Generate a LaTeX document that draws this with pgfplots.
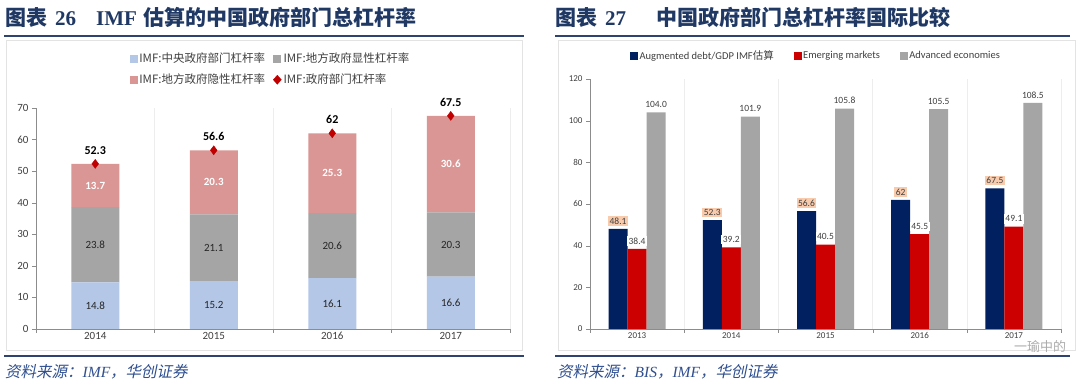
\documentclass[border=0pt]{standalone}
\usepackage{pgfplots}
\pgfplotsset{compat=1.18}
\usepackage{fontspec}
\setmainfont{Carlito}
\newfontfamily\cjk{Noto Sans CJK SC}
\newfontfamily\cjkit{Noto Sans CJK SC}[FakeSlant=0.2]
\newfontfamily\tnr{Liberation Serif}
\definecolor{titleblue}{HTML}{1F3864}
\definecolor{lineblue}{HTML}{2E4372}
\definecolor{srcblue}{HTML}{2F4F8F}
\definecolor{cblue}{HTML}{B4C7E7}
\definecolor{cgray}{HTML}{A5A5A5}
\definecolor{cpink}{HTML}{D99694}
\definecolor{dred}{HTML}{C00000}
\definecolor{navy}{HTML}{002060}
\definecolor{bred}{HTML}{CC0000}
\definecolor{peach}{HTML}{F8CBAD}
\definecolor{axisgray}{HTML}{8C8C8C}
\definecolor{ticktext}{HTML}{404040}
\begin{document}
\begin{tikzpicture}[x=1pt,y=1pt]
\path[use as bounding box, fill=white] (0,0) rectangle (1080,387);
% panel frames
\draw[gray!22, line width=0.8pt] (6,37) rectangle (522,347);
\draw[gray!22, line width=0.8pt] (558,37) rectangle (1075,347);
% title rules
\draw[lineblue, line width=2.5pt] (4,351) -- (524,351);
\draw[lineblue, line width=2.5pt] (555,351) -- (1070,351);
\draw[lineblue, line width=2.5pt] (4,31) -- (524,31);
\draw[lineblue, line width=2.5pt] (555,31) -- (1070,31);
% titles
\node[anchor=base west, inner sep=0pt, text=titleblue, font=\fontsize{21}{24}\selectfont] at (5,361)
  {\cjk\bfseries 图表\hspace{8pt}{\tnr\bfseries 26}\hspace{20pt}{\tnr\bfseries IMF}\hspace{6pt}估算的中国政府部门总杠杆率};
\node[anchor=base west, inner sep=0pt, text=titleblue, font=\fontsize{21}{24}\selectfont] at (555,361)
  {\cjk\bfseries 图表\hspace{8pt}{\tnr\bfseries 27}\hspace{30pt}中国政府部门总杠杆率国际比较};
% sources
\node[anchor=base west, inner sep=0pt, text=srcblue, font=\fontsize{15.5}{17}\selectfont] at (5,9)
  {\cjkit 资料来源：{\tnr\itshape IMF}，华创证券};
\node[anchor=base west, inner sep=0pt, text=srcblue, font=\fontsize{15.5}{17}\selectfont] at (557,9)
  {\cjkit 资料来源：{\tnr\itshape BIS}，{\tnr\itshape IMF}，华创证券};

% ---------------- left chart: stacked bars
\begin{axis}[
  at={(36pt,58pt)}, anchor=south west, scale only axis,
  width=474pt, height=221pt,
  ybar stacked, bar width=48pt,
  xmin=-0.5, xmax=3.5, ymin=0, ymax=70,
  ytick={0,10,...,70},
  xtick={-0.5,0.5,...,3.5}, xticklabels={},
  extra x ticks={0,1,2,3}, extra x tick labels={2014,2015,2016,2017},
  extra x tick style={major tick length=0pt, grid=none},
  xmajorgrids, grid style={gray!14},
  axis x line*=bottom, axis y line*=left,
  axis line style={axisgray}, tick style={axisgray},
  tick align=outside, major tick length=4pt,
  ticklabel style={font=\fontsize{11}{12}\selectfont, text=ticktext},
  /pgf/number format/assume math mode=true,
  clip=false,
]
\addplot[fill=cblue, draw=none] coordinates {(0,14.8) (1,15.2) (2,16.1) (3,16.6)};
\addplot[fill=cgray, draw=none] coordinates {(0,23.8) (1,21.1) (2,20.6) (3,20.3)};
\addplot[fill=cpink, draw=none] coordinates {(0,13.7) (1,20.3) (2,25.3) (3,30.6)};
\end{axis}

% left overlay: totals, segment labels, legend
\begin{axis}[
  at={(36pt,58pt)}, anchor=south west, scale only axis,
  width=474pt, height=221pt,
  xmin=-0.5, xmax=3.5, ymin=0, ymax=70,
  hide axis, clip=false,
  point meta=explicit symbolic,
  legend style={at={(0.495,1.176)}, anchor=center, draw=none, fill=none,
    font=\cjk\fontsize{11.5}{12}\selectfont, text=ticktext, row sep=6pt,
    /tikz/every even column/.append style={column sep=6pt}},
  legend columns=2, legend cell align=left,
]
\addlegendimage{legend image code/.code={\fill[cblue] (0pt,-3.5pt) rectangle (7pt,3.5pt);}}
\addlegendentry{IMF:中央政府部门杠杆率}
\addlegendimage{legend image code/.code={\fill[cgray] (0pt,-3.5pt) rectangle (7pt,3.5pt);}}
\addlegendentry{IMF:地方政府显性杠杆率}
\addlegendimage{legend image code/.code={\fill[cpink] (0pt,-3.5pt) rectangle (7pt,3.5pt);}}
\addlegendentry{IMF:地方政府隐性杠杆率}
\addlegendimage{legend image code/.code={\fill[dred] (4pt,-4.5pt) -- (8pt,0pt) -- (4pt,4.5pt) -- (0pt,0pt) -- cycle;}}
\addlegendentry{IMF:政府部门杠杆率}
\addplot[forget plot, only marks, mark=diamond*, mark size=4.5pt, color=dred,
  nodes near coords,
  every node near coord/.append style={text=black, font=\bfseries\fontsize{12}{13}\selectfont, anchor=south, yshift=6pt}]
  coordinates {(0,52.3)[52.3] (1,56.6)[56.6] (2,62)[62] (3,67.5)[67.5]};
\addplot[forget plot, draw=none, nodes near coords,
  every node near coord/.append style={anchor=center, text=black!85, font=\fontsize{11}{12}\selectfont}]
  coordinates {(0,7.4)[14.8] (1,7.6)[15.2] (2,8.05)[16.1] (3,8.3)[16.6]};
\addplot[forget plot, draw=none, nodes near coords,
  every node near coord/.append style={anchor=center, text=black!85, font=\fontsize{11}{12}\selectfont}]
  coordinates {(0,26.7)[23.8] (1,25.75)[21.1] (2,26.4)[20.6] (3,26.75)[20.3]};
\addplot[forget plot, draw=none, nodes near coords,
  every node near coord/.append style={anchor=center, text=white, font=\bfseries\fontsize{11}{12}\selectfont}]
  coordinates {(0,45.45)[13.7] (1,46.45)[20.3] (2,49.35)[25.3] (3,52.2)[30.6]};
\end{axis}

% ---------------- right chart: grouped bars
\begin{axis}[
  at={(590pt,58pt)}, anchor=south west, scale only axis,
  width=471pt, height=250pt,
  ybar=0pt, bar width=19pt,
  xmin=-0.5, xmax=4.5, ymin=0, ymax=120,
  ytick={0,20,...,120},
  xtick={-0.5,0.5,...,4.5}, xticklabels={},
  extra x ticks={0,1,2,3,4}, extra x tick labels={2013,2014,2015,2016,2017},
  extra x tick style={major tick length=0pt, grid=none},
  xmajorgrids, grid style={gray!14},
  axis x line*=bottom, axis y line*=left,
  axis line style={axisgray}, tick style={axisgray},
  tick align=outside, major tick length=4pt,
  ticklabel style={font=\fontsize{9}{10}\selectfont, text=ticktext},
  /pgf/number format/assume math mode=true,
  clip=false,
  point meta=explicit symbolic,
  nodes near coords,
  every node near coord/.append style={anchor=south, yshift=3pt, inner sep=1.5pt,
    text=ticktext, font=\fontsize{9.5}{10}\selectfont},
]
\addplot[fill=navy, draw=none, every node near coord/.append style={fill=peach}]
  coordinates {(0,48.1)[48.1] (1,52.3)[52.3] (2,56.6)[56.6] (3,62)[62] (4,67.5)[67.5]};
\addplot[fill=bred, draw=none, every node near coord/.append style={fill=white}]
  coordinates {(0,38.4)[38.4] (1,39.2)[39.2] (2,40.5)[40.5] (3,45.5)[45.5] (4,49.1)[49.1]};
\addplot[fill=cgray, draw=none]
  coordinates {(0,104.0)[104.0] (1,101.9)[101.9] (2,105.8)[105.8] (3,105.5)[105.5] (4,108.5)[108.5]};
\end{axis}

% right legend
\begin{axis}[
  at={(590pt,58pt)}, anchor=south west, scale only axis,
  width=471pt, height=250pt,
  xmin=-0.5, xmax=4.5, ymin=0, ymax=120,
  hide axis,
  legend style={at={(0.48,1.092)}, anchor=center, draw=none, fill=none,
    font=\fontsize{10.5}{12}\selectfont, text=ticktext,
    /tikz/every even column/.append style={column sep=18pt}},
  legend columns=-1,
]
\addlegendimage{legend image code/.code={\fill[navy] (0pt,-3.5pt) rectangle (7pt,3.5pt);}}
\addlegendentry{Augmented debt/GDP IMF{\cjk 估算}}
\addlegendimage{legend image code/.code={\fill[bred] (0pt,-3.5pt) rectangle (7pt,3.5pt);}}
\addlegendentry{Emerging markets}
\addlegendimage{legend image code/.code={\fill[cgray] (0pt,-3.5pt) rectangle (7pt,3.5pt);}}
\addlegendentry{Advanced economies}
\end{axis}

% watermark
\node[text=gray!65, font=\cjk\fontsize{13}{14}\selectfont, inner sep=0pt] at (1040,40) {一瑜中的};
\end{tikzpicture}
\end{document}
